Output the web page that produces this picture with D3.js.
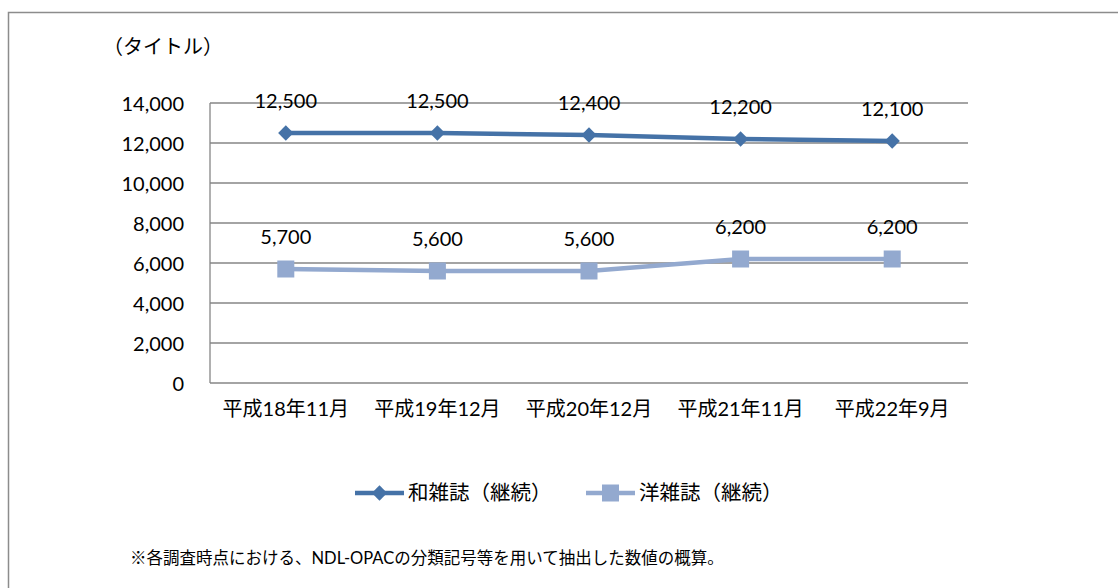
<!DOCTYPE html>
<html>
<head>
<meta charset="utf-8">
<script src="https://cdn.jsdelivr.net/npm/d3@7"></script>
<style>
body { margin: 0; background: #fff; }
svg text { font-family: Lato, "Noto Sans CJK JP", sans-serif; fill: #000; }
</style>
</head>
<body>
<div id="chart"></div>
<script>
var categories = ["平成18年11月", "平成19年12月", "平成20年12月", "平成21年11月", "平成22年9月"];
var wazasshi = [12500, 12500, 12400, 12200, 12100];
var yozasshi = [5700, 5600, 5600, 6200, 6200];
var seriesNames = ["和雑誌（継続）", "洋雑誌（継続）"];
var yTicks = [0, 2000, 4000, 6000, 8000, 10000, 12000, 14000];
var colors = ["#4572a7", "#93a9cf"];

var svg = d3.select("#chart")
	.append("svg")
	.attr("width", 1118)
	.attr("height", 588)
	;

// outer frame, runs off the right and bottom edges
svg.append("rect")
	.attr("x", 8.5)
	.attr("y", 12.5)
	.attr("width", 1200)
	.attr("height", 700)
	.attr("fill", "none")
	.attr("stroke", "#8c8c8c")
	.attr("stroke-width", 1.5)
	;

svg.append("text")
	.attr("x", 103)
	.attr("y", 54)
	.style("font-size", "20px")
	.text("（タイトル）")
	;

var x = d3.scaleBand()
	.domain(categories)
	.range([210, 968]);

var y = d3.scaleLinear()
	.domain([0, 14000])
	.range([383, 103]);

// gridlines
svg.append("g")
	.selectAll("line")
	.data(yTicks)
	.enter().append("line")
	.attr("x1", 210)
	.attr("x2", 968)
	.attr("y1", function(d) { return y(d); })
	.attr("y2", function(d) { return y(d); })
	.attr("stroke", "#868686")
	.attr("stroke-width", 1.3)
	;

svg.append("line")
	.attr("x1", 210).attr("x2", 210)
	.attr("y1", y(14000)).attr("y2", y(0))
	.attr("stroke", "#868686")
	.attr("stroke-width", 1.3)
	;

var yAxis = svg.append("g")
	.attr("transform", "translate(210,0)")
	.call(d3.axisLeft(y).tickValues(yTicks).tickSize(0).tickPadding(26).tickFormat(d3.format(",")))
	;
yAxis.select(".domain").remove();
yAxis.selectAll("text")
	.style("font-size", "20px")
	.style("font-family", "Lato, sans-serif")
	.attr("dy", "0.35em")
	;

var xAxis = svg.append("g")
	.attr("transform", "translate(0," + y(0) + ")")
	.call(d3.axisBottom(x).tickSize(0).tickPadding(26))
	;
xAxis.select(".domain").remove();
xAxis.selectAll("text")
	.style("font-size", "20px")
	.attr("dy", "0.35em")
	;

var cx = function(d, i) { return x(categories[i]) + x.bandwidth() / 2; };

var line = d3.line()
	.x(function(d, i) { return cx(d, i); })
	.y(function(d) { return y(d); });

[wazasshi, yozasshi].forEach(function(values, s) {
	var g = svg.append("g");
	g.append("path")
		.datum(values)
		.attr("d", line)
		.attr("fill", "none")
		.attr("stroke", colors[s])
		.attr("stroke-width", 4.5)
		;
	if (s === 0) {
		g.selectAll("path.mark")
			.data(values)
			.enter().append("path")
			.attr("class", "mark")
			.attr("d", d3.symbol().type(d3.symbolDiamond2).size(150))
			.attr("transform", function(d, i) { return "translate(" + cx(d, i) + "," + y(d) + ")"; })
			.attr("fill", colors[s])
			;
	} else {
		g.selectAll("rect")
			.data(values)
			.enter().append("rect")
			.attr("x", function(d, i) { return cx(d, i) - 8.5; })
			.attr("y", function(d) { return y(d) - 8.5; })
			.attr("width", 17)
			.attr("height", 17)
			.attr("fill", colors[s])
			;
	}
	g.selectAll("text")
		.data(values)
		.enter().append("text")
		.attr("x", function(d, i) { return cx(d, i); })
		.attr("y", function(d) { return y(d) - 25; })
		.attr("text-anchor", "middle")
		.style("font-size", "20px")
		.text(function(d) { return d3.format(",")(d); })
		;
});

// legend
var legendX = [355, 586];
var legend = svg.selectAll("g.legend")
	.data(seriesNames)
	.enter().append("g")
	.attr("class", "legend")
	.attr("transform", function(d, i) { return "translate(" + legendX[i] + ",493)"; })
	;
legend.append("line")
	.attr("x1", 0).attr("x2", 49)
	.attr("stroke", function(d, i) { return colors[i]; })
	.attr("stroke-width", 4.5)
	;
legend.each(function(d, i) {
	var g = d3.select(this);
	if (i === 0) {
		g.append("path")
			.attr("d", d3.symbol().type(d3.symbolDiamond2).size(150))
			.attr("transform", "translate(24.5,0)")
			.attr("fill", colors[i]);
	} else {
		g.append("rect")
			.attr("x", 16).attr("y", -8.5)
			.attr("width", 17).attr("height", 17)
			.attr("fill", colors[i]);
	}
});
legend.append("text")
	.attr("x", 53)
	.attr("dy", "0.35em")
	.style("font-size", "20.5px")
	.text(function(d) { return d; })
	;

svg.append("text")
	.attr("x", 130)
	.attr("y", 564)
	.style("font-size", "16.5px")
	.text("※各調査時点における、NDL-OPACの分類記号等を用いて抽出した数値の概算。")
	;
</script>
</body>
</html>
